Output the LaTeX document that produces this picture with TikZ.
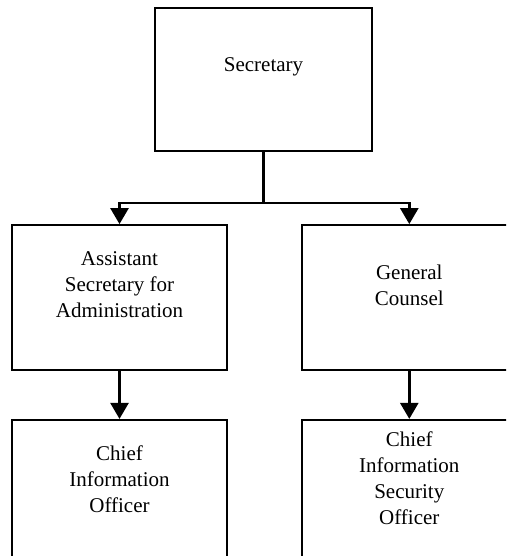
\documentclass[tikz,border=0pt]{standalone}
\usepackage{fontspec}
\setmainfont{Liberation Serif}
\usetikzlibrary{arrows.meta,positioning}

\begin{document}
\begin{tikzpicture}[x=1pt,y=1pt,>={Triangle[width=18pt,length=16pt]},
  box/.style={draw,line width=1.8pt,minimum width=215pt,minimum height=145pt,inner sep=0pt},
  txt/.style={align=center,font=\fontsize{21}{26}\selectfont,inner sep=0pt},
  conn/.style={->,line width=2.6pt}]
  \useasboundingbox (0,0) rectangle (506,556);
  \clip (0,0) rectangle (506,556);
  % boxes
  \node[box,minimum width=217pt,minimum height=143pt] (sec) at (263.5,476.5) {};
  \node[box] (asa) at (119.5,258.5) {};
  \node[box,right=73pt of asa] (gc) {};
  \node[box,below=48pt of asa] (cio) {};
  \node[box,below=48pt of gc] (ciso) {};
  % texts
  \node[txt] (sect) at ([yshift=-60pt]sec.north) {Secretary};
  \node[txt] (asat) at ([yshift=-61pt]asa.north) {Assistant\\Secretary for\\Administration};
  \node[txt] (gct) at ([yshift=-61pt]gc.north) {General\\Counsel};
  \node[txt] (ciot) at ([yshift=-60pt]cio.north) {Chief\\Information\\Officer};
  \node[txt] (cisot) at ([yshift=-59pt]ciso.north) {Chief\\Information\\Security\\Officer};
  % connectors
  \coordinate (split) at ([yshift=-51pt]sec.south);
  \draw[line width=2.6pt] (sec.south) -- (split);
  \draw[conn] (split) -| (asa.north);
  \draw[conn] (split) -| (gc.north);
  \draw[conn] (asa.south) -- (cio.north);
  \draw[conn] (gc.south) -- (ciso.north);
\end{tikzpicture}
\end{document}
